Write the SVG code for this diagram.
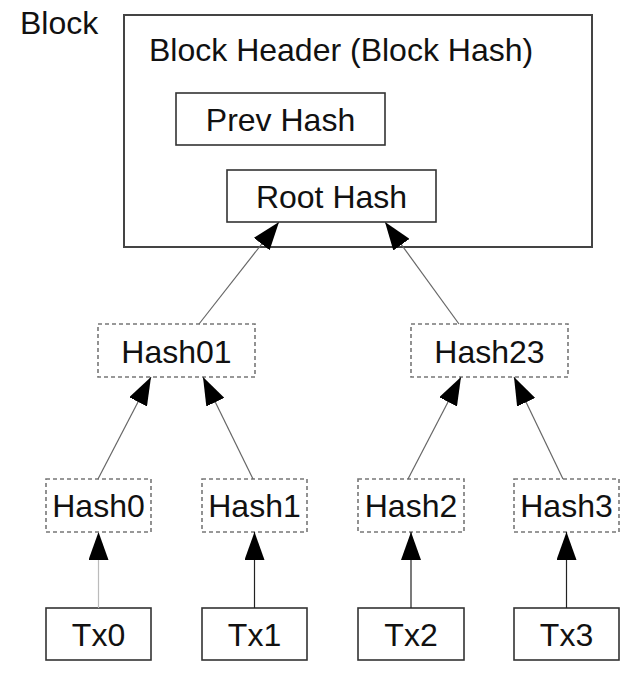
<svg xmlns="http://www.w3.org/2000/svg" width="640" height="682" viewBox="0 0 640 682">
<defs>
<style>
text{font-family:"Liberation Sans",Arial,sans-serif;font-size:32px;fill:#111}
.c{text-anchor:middle}
.solid{fill:#fff;stroke:#333;stroke-width:1.6}
.dash{fill:#fff;stroke:#777;stroke-width:1.6;stroke-dasharray:4 3}
.edge{fill:none;stroke:#666;stroke-width:1.2;marker-end:url(#ah)}
.dark{stroke:#222}
.light{stroke:#bbb}
</style>
<marker id="ah" markerUnits="userSpaceOnUse" markerWidth="28" markerHeight="20" refX="28" refY="10" orient="auto" viewBox="0 0 28 20">
<path d="M0,0 L28,10 L0,20 z" fill="#000"/>
</marker>
</defs>
<rect width="640" height="682" fill="#fff"/>
<g id="block">
<text x="20" y="34">Block</text>
<rect x="124" y="15" width="468" height="232" fill="#fff" stroke="#444" stroke-width="2"/>
<text x="149" y="61">Block Header (Block Hash)</text>
</g>
<g id="prevhash">
<rect class="solid" x="176" y="93" width="209" height="52"/>
<text class="c" x="280.5" y="131">Prev Hash</text>
</g>
<g id="roothash">
<rect class="solid" x="227" y="170" width="209" height="52"/>
<text class="c" x="331.5" y="208">Root Hash</text>
</g>
<g id="hash01">
<rect class="dash" x="98" y="324" width="157" height="53"/>
<text class="c" x="176.5" y="363">Hash01</text>
</g>
<g id="hash23">
<rect class="dash" x="411" y="324" width="157" height="53"/>
<text class="c" x="489.5" y="363">Hash23</text>
</g>
<g id="hash0">
<rect class="dash" x="46" y="479" width="105" height="53"/>
<text class="c" x="98.5" y="517">Hash0</text>
</g>
<g id="hash1">
<rect class="dash" x="202" y="479" width="105" height="53"/>
<text class="c" x="254.5" y="517">Hash1</text>
</g>
<g id="hash2">
<rect class="dash" x="358" y="479" width="106" height="53"/>
<text class="c" x="411" y="517">Hash2</text>
</g>
<g id="hash3">
<rect class="dash" x="514" y="479" width="105" height="53"/>
<text class="c" x="566.5" y="517">Hash3</text>
</g>
<g id="tx0">
<rect class="solid" x="46" y="608" width="105" height="52"/>
<text class="c" x="98.5" y="646">Tx0</text>
</g>
<g id="tx1">
<rect class="solid" x="202" y="608" width="105" height="52"/>
<text class="c" x="254.5" y="646">Tx1</text>
</g>
<g id="tx2">
<rect class="solid" x="358" y="608" width="106" height="52"/>
<text class="c" x="411" y="646">Tx2</text>
</g>
<g id="tx3">
<rect class="solid" x="514" y="608" width="105" height="52"/>
<text class="c" x="566.5" y="646">Tx3</text>
</g>
<g id="connectors">
<line class="edge" x1="199" y1="324" x2="279" y2="222"/>
<line class="edge" x1="459" y1="324" x2="385" y2="222"/>
<line class="edge" x1="98" y1="479" x2="151" y2="377"/>
<line class="edge" x1="253" y1="479" x2="203" y2="377"/>
<line class="edge" x1="408" y1="479" x2="461" y2="377"/>
<line class="edge" x1="563" y1="479" x2="514" y2="377"/>
<line class="edge light" x1="98.5" y1="608" x2="98.5" y2="532"/>
<line class="edge dark" x1="254.5" y1="608" x2="254.5" y2="532"/>
<line class="edge dark" x1="411" y1="608" x2="411" y2="532"/>
<line class="edge dark" x1="566.5" y1="608" x2="566.5" y2="532"/>
</g>
</svg>
